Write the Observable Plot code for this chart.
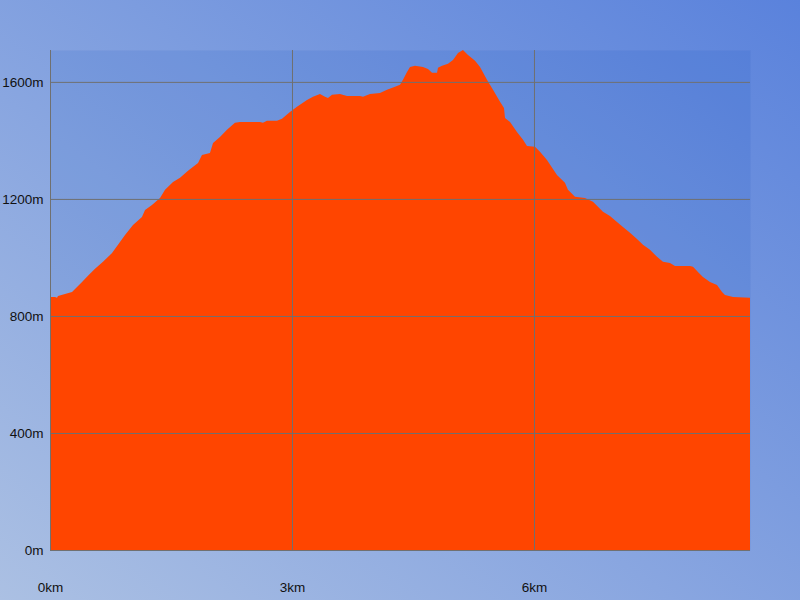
<!DOCTYPE html>
<html><head><meta charset="utf-8">
<script src="https://cdn.jsdelivr.net/npm/d3@7"></script>
<script src="https://cdn.jsdelivr.net/npm/@observablehq/plot@0.6"></script>
<style>
html,body{margin:0;padding:0;}
body{width:800px;height:600px;background:linear-gradient(to top right,#abc0e3,#5a82dc);overflow:hidden}
#chart svg{display:block}
</style></head><body><div id="chart"></div>
<script>
const distanceKm = [0.000,0.062,0.087,0.099,0.186,0.273,0.335,0.397,0.471,0.558,0.657,0.769,0.843,0.930,1.029,1.140,1.178,1.264,1.364,1.426,1.525,1.612,1.711,1.835,1.884,1.983,2.021,2.107,2.194,2.293,2.355,2.603,2.640,2.690,2.814,2.876,2.975,3.062,3.186,3.260,3.347,3.409,3.446,3.496,3.595,3.682,3.843,3.880,3.967,4.091,4.178,4.277,4.339,4.376,4.426,4.463,4.525,4.624,4.686,4.736,4.798,4.810,4.860,4.934,4.996,5.058,5.120,5.182,5.269,5.331,5.417,5.492,5.579,5.628,5.641,5.703,5.789,5.864,5.913,6.012,6.074,6.161,6.285,6.384,6.421,6.508,6.632,6.731,6.855,6.942,7.029,7.103,7.190,7.277,7.351,7.438,7.525,7.599,7.686,7.748,7.934,7.971,8.033,8.095,8.182,8.269,8.331,8.368,8.467,8.678];
const elevationM = [865,865,862,868,875,882,899,916,937,961,985,1015,1043,1077,1111,1138,1162,1179,1203,1231,1258,1272,1296,1323,1350,1357,1391,1412,1436,1460,1463,1463,1460,1467,1467,1474,1497,1515,1538,1549,1559,1549,1545,1556,1559,1552,1552,1549,1559,1562,1573,1583,1590,1607,1634,1651,1655,1651,1644,1631,1631,1648,1655,1662,1675,1699,1709,1692,1672,1651,1607,1573,1532,1511,1477,1463,1429,1402,1381,1378,1361,1333,1282,1255,1231,1207,1203,1190,1156,1142,1121,1104,1084,1063,1043,1026,1002,985,981,971,971,968,950,933,916,906,882,872,865,862];
const xTicks = [0, 3, 6];
const yTicks = [0, 400, 800, 1200, 1600];
const data = distanceKm.map((d, i) => ({d, e: elevationM[i]}));
const chart = Plot.plot({
  width: 800, height: 600,
  marginLeft: 50, marginRight: 50, marginTop: 50, marginBottom: 50,
  style: {background: "transparent", fontFamily: "'Liberation Sans', Arial, sans-serif", fontSize: "13.5px", color: "#111"},
  x: {domain: [0, 8.678], ticks: xTicks, tickFormat: d => d + "km", tickSize: 0, tickPadding: 32, label: null},
  y: {domain: [0, 1709], ticks: yTicks, tickFormat: d => d + "m", tickSize: 0, tickPadding: 7, label: null},
  marks: [
    Plot.frame({fill: "rgba(0,70,190,0.1)", stroke: null}),
    Plot.areaY(data, {x: "d", y: "e", fill: "#ff4500"}),
    Plot.gridX(xTicks, {stroke: "#707070", strokeOpacity: 1}),
    Plot.gridY(yTicks, {stroke: "#707070", strokeOpacity: 1}),
    Plot.ruleX([0], {stroke: "#707070"}),
    Plot.ruleY([0], {stroke: "#707070"})
  ]
});
document.getElementById("chart").appendChild(chart);
</script></body></html>
